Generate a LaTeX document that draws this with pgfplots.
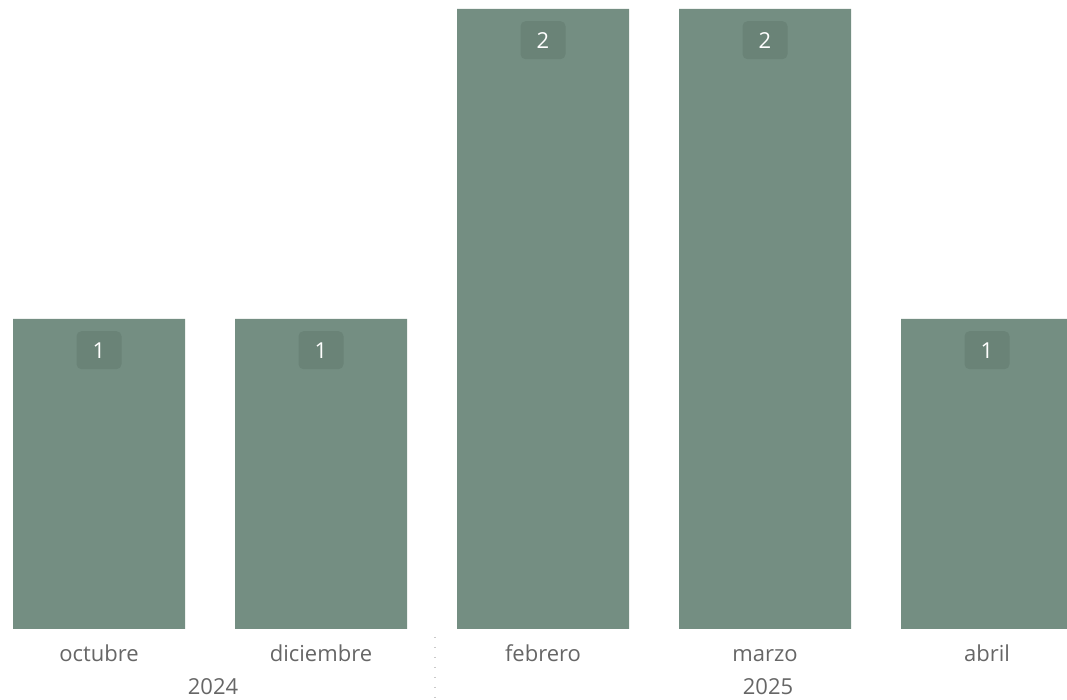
\documentclass[border=0pt]{standalone}
\usepackage{pgfplots}
\pgfplotsset{compat=1.18}
\usepackage{fontspec}
\setmainfont{Open Sans}
\definecolor{barc}{RGB}{116,142,130}
\definecolor{boxc}{RGB}{106,131,119}
\definecolor{txtc}{RGB}{102,102,102}
\begin{document}
\begin{tikzpicture}[x=1pt,y=1pt]
\useasboundingbox (0,0) rectangle (1067,700);
\begin{axis}[
  at={(13pt,71pt)}, anchor=south west,
  scale only axis, width=1054pt, height=620pt,
  xmin=-0.3874, xmax=4.3604, ymin=0, ymax=2,
  axis line style={draw=none},
  tick style={draw=none},
  ytick=\empty,
  xtick=data,
  xticklabels={octubre,diciembre,febrero,marzo,abril},
  xticklabel style={anchor=base, yshift=-28pt, font=\fontsize{22}{26}\selectfont, text=txtc},
  /pgf/number format/assume math mode=true,
  ybar, bar width=172pt, bar shift=0pt,
  nodes near coords,
  every node near coord/.style={anchor=north, yshift=-12pt, fill=boxc, rounded corners=5pt,
     minimum width=45pt, minimum height=38pt, inner sep=0pt, text=white,
     font=\fontsize{22}{26}\selectfont},
  clip=true,
]
\addplot[fill=barc, draw=none] coordinates {(0,1) (1,1) (2,2) (3,2) (4,1)};
\coordinate (sep) at (axis cs:1.5,0);
\coordinate (ya) at (axis cs:0.5,0);
\coordinate (yb) at (axis cs:3,0);
\end{axis}
\draw[txtc!35, line width=1.5pt, dash pattern=on 1.5pt off 8.5pt] ([xshift=3pt,yshift=-8pt]sep) -- ([xshift=3pt,yshift=-71pt]sep);
\node[anchor=base, text=txtc, font=\fontsize{22}{26}\selectfont] at ([xshift=3pt,yshift=-66pt]ya) {2024};
\node[anchor=base, text=txtc, font=\fontsize{22}{26}\selectfont] at ([xshift=3pt,yshift=-66pt]yb) {2025};
\end{tikzpicture}
\end{document}
